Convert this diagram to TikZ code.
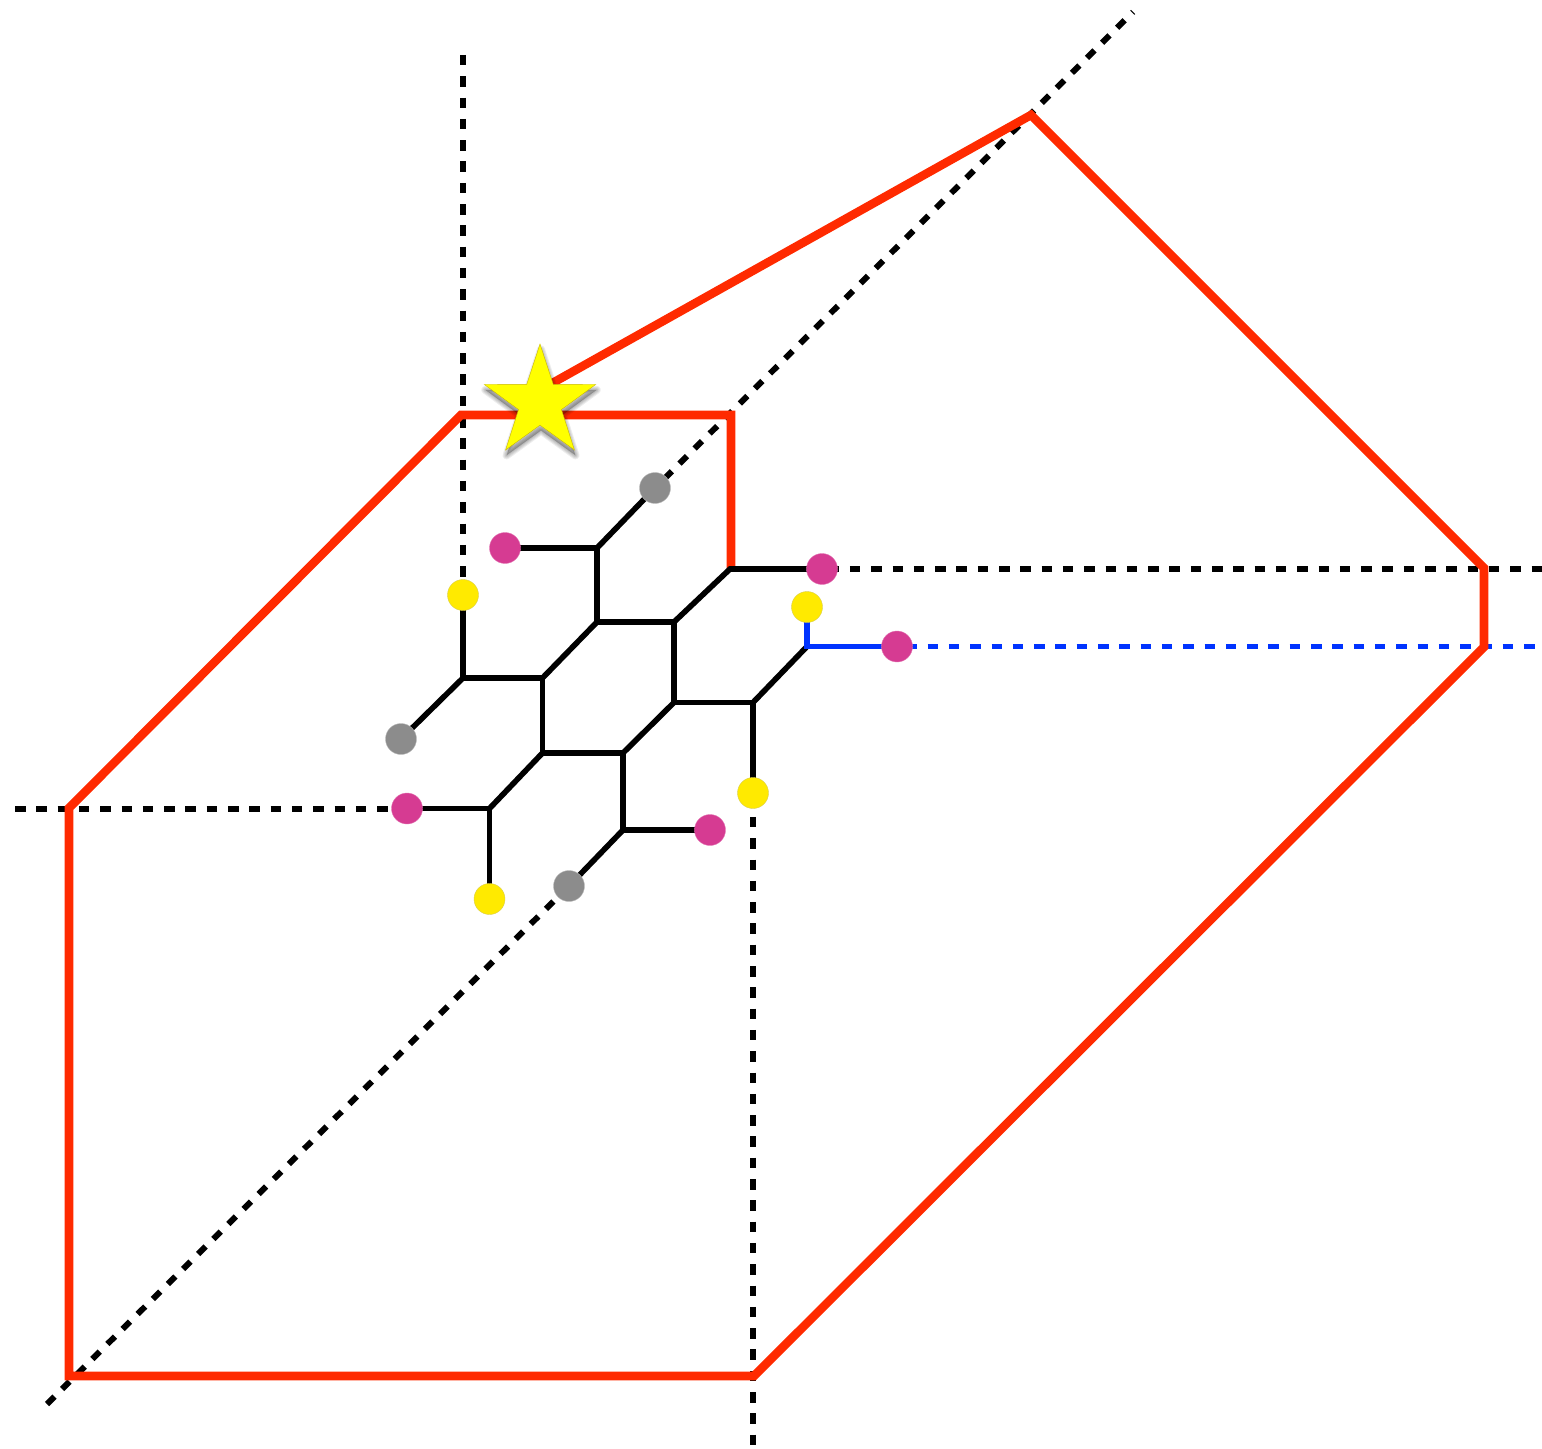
\documentclass[tikz,border=0pt]{standalone}
\usetikzlibrary{shapes.geometric,backgrounds}
\definecolor{redline}{HTML}{FF2A00}
\definecolor{blueline}{HTML}{0033FF}
\definecolor{magdot}{HTML}{D63B92}
\definecolor{yeldot}{HTML}{FFEA00}
\definecolor{graydot}{HTML}{8C8C8C}
\definecolor{starfill}{HTML}{FFFF00}
\definecolor{staredge}{HTML}{C9B800}
\tikzset{
  dot/.style={circle,minimum size=15.5pt,inner sep=0pt,outer sep=0pt},
  magnode/.style={dot,fill=magdot,draw=magdot!70!white,line width=0.2pt},
  yelnode/.style={dot,fill=yeldot,draw=staredge!70!white,line width=0.2pt},
  graynode/.style={dot,fill=graydot,draw=graydot!60!white,line width=0.2pt},
  bond/.style={draw=black,line width=2.8pt,line cap=round},
  bluebond/.style={draw=blueline,line width=2.7pt},
  dashblack/.style={draw=black,line width=3pt,dash pattern=on 5.25pt off 5.4pt},
  dashblue/.style={draw=blueline,line width=2.8pt,dash pattern=on 5.25pt off 5.4pt},
  redpath/.style={draw=redline,line width=4.3pt,line join=miter},
  starbase/.style={star,star points=5,star point ratio=2.6,minimum size=58.6pt,inner sep=0pt,outer sep=0pt}
}
\begin{document}
\begin{tikzpicture}[x=0.5pt,y=-0.5pt]
\useasboundingbox (0,0) rectangle (1542,1449);
% junctions
\coordinate (A) at (597,548);
\coordinate (B) at (597,622);
\coordinate (C) at (674,622);
\coordinate (D) at (730,569);
\coordinate (E) at (542.5,678);
\coordinate (F) at (463,678);
\coordinate (G) at (542.5,753);
\coordinate (H) at (623,753);
\coordinate (I) at (674,702.5);
\coordinate (J) at (753,702.5);
\coordinate (K) at (807,646.5);
\coordinate (L) at (489.5,808.5);
\coordinate (M) at (623,830);
% free ends
\coordinate (vtop) at (463,55);
\coordinate (vbot) at (753,1445);
\coordinate (hleft) at (15,808.5);
\coordinate (hright) at (1542,569);
\coordinate (bright) at (1537,646.5);
\coordinate (dtop) at (1133,12);
\coordinate (dbot) at (47,1404);
% red outline corners
\coordinate (r1) at (69,808);
\coordinate (r2) at (461,415);
\coordinate (r3) at (731,415);
\coordinate (r4) at (731,568);
\coordinate (r5) at (540,390);
\coordinate (r6) at (1031,115);
\coordinate (r7) at (1484,568);
\coordinate (r8) at (1484,647);
\coordinate (r9) at (754,1376);
\coordinate (r10) at (69,1376);
% dots
\node[graynode] (g1) at (655,488) {};
\node[graynode] (g2) at (401,739) {};
\node[graynode] (g3) at (569,886) {};
\node[magnode] (m1) at (505,548) {};
\node[magnode] (m2) at (822,569) {};
\node[magnode] (m3) at (897,646.5) {};
\node[magnode] (m4) at (407,808.5) {};
\node[magnode] (m5) at (710,830) {};
\node[yelnode] (y1) at (463,595) {};
\node[yelnode] (y2) at (807,607) {};
\node[yelnode] (y3) at (753,793) {};
\node[yelnode] (y4) at (489.5,899) {};
% star with soft shadow
\foreach \w in {4,3,2,1}{
  \node[starbase,fill=black,draw=black,line join=round,line width=\w pt,opacity=0.07] at (541,408) {};
}
\node[starbase,fill=starfill,draw=staredge,line width=0.2pt] (st) at (540,402.6) {};
\begin{scope}[on background layer]
  % dashed guides
  \draw[dashblack] (vtop) -- (y1.center);
  \draw[dashblack,dash phase=9.33pt] (y3.center) -- (vbot);
  \draw[dashblack] (hleft) -- (m4.center);
  \draw[dashblack,dash phase=7.33pt] (m2.center) -- (hright);
  \draw[dashblack,dash phase=4.75pt] (dtop) -- (g1.center);
  \draw[dashblack] (dbot) -- (g3.center);
  \draw[dashblue,dash phase=6pt] (m3.center) -- (bright);
  % red outline
  \draw[redpath] (r4) -- (r3) -- (r2) -- (r1) -- (r10) -- (r9) -- (r8) -- (r7) -- (r6) -- (r5);
  % black bonds
  \draw[bond] (g1.center) -- (A);
  \draw[bond] (m1.center) -- (A);
  \draw[bond] (A) -- (B);
  \draw[bond] (B) -- (C);
  \draw[bond] (C) -- (D);
  \draw[bond] (D) -- (m2.center);
  \draw[bond] (B) -- (E);
  \draw[bond] (E) -- (F);
  \draw[bond] (F) -- (y1.center);
  \draw[bond] (F) -- (g2.center);
  \draw[bond] (E) -- (G);
  \draw[bond] (G) -- (H);
  \draw[bond] (H) -- (I);
  \draw[bond] (I) -- (C);
  \draw[bond] (I) -- (J);
  \draw[bond] (J) -- (K);
  \draw[bond] (J) -- (y3.center);
  \draw[bond] (G) -- (L);
  \draw[bond] (L) -- (m4.center);
  \draw[bond] (L) -- (y4.center);
  \draw[bond] (H) -- (M);
  \draw[bond] (M) -- (m5.center);
  \draw[bond] (M) -- (g3.center);
  % blue bonds
  \draw[bluebond] (y2.center) -- (K) -- (m3.center);
\end{scope}
\end{tikzpicture}
\end{document}
